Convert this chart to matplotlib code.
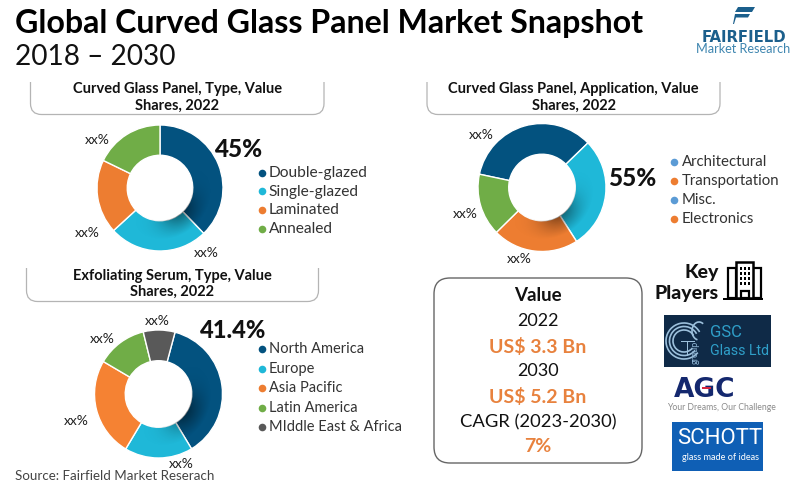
import numpy as np
import matplotlib
matplotlib.use("Agg")
import matplotlib.pyplot as plt
from matplotlib.patches import Arc, FancyBboxPatch, PathPatch, Rectangle, Wedge, Polygon
from matplotlib.path import Path

# shares
type_names = ["Double-glazed", "Single-glazed", "Laminated", "Annealed"]
type_vals = [37.8, 25.4, 19.0, 17.8]
app_names = ["Architectural", "Transportation", "Misc.", "Electronics"]
app_vals = [34.4, 28.2, 21.7, 15.7]
region_names = ["North America", "Europe", "Asia Pacific", "Latin America", "MIddle East & Africa"]
region_vals = [37.2, 17.2, 24.9, 12.7, 8.0]

blue = "#03527f"
cyan = "#1fb8d8"
orange = "#ed7d31"
green = "#70ad47"
gray = "#595959"
txt_orange = "#e8823e"
logo_blue = "#1b5f8c"

plt.rcParams["font.family"] = ["Lato", "DejaVu Sans"]

W, H = 800, 490
fig = plt.figure(figsize=(W / 100, H / 100), dpi=100, facecolor="white")
ax = fig.add_axes([0, 0, 1, 1])
ax.set_xlim(0, W)
ax.set_ylim(H, 0)
ax.axis("off")


def donut(cx, cy, r, vals, cols, start, shade_ang):
    a = fig.add_axes([(cx - r) / W, 1 - (cy + r) / H, 2 * r / W, 2 * r / H])
    a.pie(vals, colors=cols, startangle=start, counterclock=False,
          wedgeprops=dict(width=0.48, edgecolor="white", linewidth=1))
    # soft shadow inside the ring
    g = np.linspace(-1, 1, 200)
    x, y = np.meshgrid(g, g)
    rad = np.hypot(x, y)
    ang = np.arctan2(y, x)
    d = np.angle(np.exp(1j * (ang - np.radians(shade_ang))))
    alpha = 0.45 * np.clip(1 - (rad - 0.52) / 0.3, 0, 1) * np.exp(-(d / 0.65) ** 2)
    img = np.zeros((200, 200, 4))
    img[..., 3] = alpha
    im = a.imshow(img, extent=(-1, 1, -1, 1), origin="lower", zorder=3)
    im.set_clip_path(Wedge((0, 0), 1, 0, 360, width=0.48, transform=a.transData))
    a.set_xlim(-1, 1)
    a.set_ylim(-1, 1)
    a.axis("off")


donut(160, 188, 63, type_vals, [blue, cyan, orange, green], 90, -50)
donut(542, 187.5, 64, app_vals, [blue, cyan, orange, green], 168, -55)
donut(158.5, 394, 64, region_vals, [blue, cyan, "#f58233", green, gray], 75, -35)


def header(x0, x1, y0, y1, lines):
    rr = 11
    verts = [(x0, y0), (x0, y1 - rr), (x0, y1), (x0 + rr, y1), (x1 - rr, y1), (x1, y1), (x1, y1 - rr), (x1, y0)]
    codes = [Path.MOVETO, Path.LINETO, Path.CURVE3, Path.CURVE3, Path.LINETO, Path.CURVE3, Path.CURVE3, Path.LINETO]
    ax.add_patch(PathPatch(Path(verts, codes), fc="none", ec="#b4b4b4", lw=0.9))
    xc = (x0 + x1) / 2
    ax.text(xc, y0 + 7.5, lines[0], ha="center", va="center", fontsize=10.5, fontweight="bold", color="#111111")
    ax.text(xc, y0 + 23.5, lines[1], ha="center", va="center", fontsize=10.5, fontweight="bold", color="#111111")


header(30.5, 324, 82, 114.5, ["Curved Glass Panel, Type, Value", "Shares, 2022"])
header(427, 720, 82, 114.5, ["Curved Glass Panel, Application, Value", "Shares, 2022"])
header(26.5, 318.5, 268, 301.5, ["Exfoliating Serum, Type, Value", "Shares, 2022"])

# title
ax.text(15, 24, "Global Curved Glass Panel Market Snapshot", fontsize=23.1, fontweight="bold",
        color="black", va="center", ha="left")
ax.text(15, 57, "2018 – 2030", fontsize=20.2, color="#111111", va="center", ha="left")


def legend(x, ys, names, cols, tx, size):
    for yy, n, c in zip(ys, names, cols):
        ax.scatter([x], [yy], s=30, color=c, linewidths=0, zorder=4)
        ax.text(tx, yy, n, fontsize=size, color="#333333", va="center", ha="left")


legend(262, [173, 191.5, 210, 228.5], type_names, [blue, cyan, orange, green], 268.5, 11.2)
legend(674, [162, 181, 199.5, 218.5], app_names, ["#5b9bd5", orange, "#5b9bd5", orange], 682, 10.8)
legend(262, [349, 369, 388, 407.5, 427], region_names, [blue, cyan, orange, green, gray], 269, 10.5)

for x, y, s in [(97, 140, "xx%"), (87, 233, "xx%"), (206, 253, "xx%"),
                (481, 135, "xx%"), (465, 214, "xx%"), (519, 259, "xx%"),
                (102, 339, "xx%"), (157, 321, "xx%"), (76, 421, "xx%"), (181, 464, "xx%")]:
    ax.text(x, y, s, fontsize=10, color="#222222", ha="center", va="center")

ax.text(238, 149, "45%", fontsize=17.5, fontweight="black", color="#111111", ha="center", va="center")
ax.text(632.5, 178, "55%", fontsize=17.5, fontweight="black", color="#111111", ha="center", va="center")
ax.text(233, 330, "41.4%", fontsize=17, fontweight="black", color="#111111", ha="center", va="center")

ax.text(15, 475.5, "Source: Fairfield Market Reserach", fontsize=9.6, color="#444444", ha="left", va="center")

# value box
ax.add_patch(FancyBboxPatch((434, 278), 208, 185, boxstyle="round,pad=0,rounding_size=16", fc="white", ec="#666666", lw=1))
bx = 538
ax.text(bx, 295, "Value", fontsize=13.5, fontweight="bold", color="#111111", ha="center", va="center")
ax.text(bx, 320.5, "2022", fontsize=13, color="#111111", ha="center", va="center")
ax.text(bx, 347, "US$ 3.3 Bn", fontsize=14, fontweight="bold", color=txt_orange, ha="center", va="center")
ax.text(bx, 370.5, "2030", fontsize=13, color="#111111", ha="center", va="center")
ax.text(bx, 396.5, "US$ 5.2 Bn", fontsize=14, fontweight="bold", color=txt_orange, ha="center", va="center")
ax.text(bx, 422, "CAGR (2023-2030)", fontsize=13.2, color="#111111", ha="center", va="center")
ax.text(bx, 446, "7%", fontsize=14, fontweight="bold", color=txt_orange, ha="center", va="center")

# key players + building icon
ax.text(719, 272, "Key", fontsize=14, fontweight="black", color="#111111", ha="right", va="center")
ax.text(719, 293, "Players", fontsize=14, fontweight="black", color="#111111", ha="right", va="center")
ax.add_patch(Rectangle((723, 298), 40, 2, fc="black", ec="none"))
ax.add_patch(Rectangle((728, 268), 8, 30, fc="white", ec="black", lw=1.6))
ax.add_patch(Rectangle((753, 268), 8, 30, fc="white", ec="black", lw=1.6))
ax.add_patch(Rectangle((736, 262), 17, 36, fc="white", ec="black", lw=1.8))
ax.add_patch(Rectangle((741, 291), 8, 7, fc="white", ec="black", lw=1.6))
for xx in [741, 745, 749]:
    for yy in [267, 272, 277, 282]:
        ax.add_patch(Rectangle((xx - 1, yy), 2.2, 2.6, fc="black", ec="none"))

# logos
ax.add_patch(Rectangle((664, 315), 107, 52, fc="#0f2a47", ec="none"))
for d in [36, 29, 22]:
    ax.add_patch(Arc((684, 341), d, d, theta1=40, theta2=330, ec="#9cc0dc", lw=1.2))
ax.add_patch(Arc((699, 331), 14, 18, theta1=100, theta2=300, ec="#9cc0dc", lw=1.2))
ax.add_patch(Rectangle((681, 341), 14, 1.4, fc="#9cc0dc", ec="none"))
ax.add_patch(Rectangle((687, 342), 1.4, 14, fc="#9cc0dc", ec="none"))
ax.text(695.5, 352, "group", fontsize=6.5, color="#8fb6d6", rotation=90, ha="center", va="center")
ax.text(710, 332, "GSC", fontsize=12, color="#2f9fc9", ha="left", va="center", family="Roboto")
ax.text(710, 351, "Glass Ltd", fontsize=10.2, color="#2f9fc9", ha="left", va="center", family="Roboto")

ax.text(705, 389.5, "AGC", fontsize=19, fontweight="bold", color="#14286e", ha="center", va="center",
        family=["DejaVu Sans"])
ax.add_patch(Rectangle((702, 387), 9, 2, fc="#d8263c", ec="none", zorder=4))
ax.text(721, 407.5, "Your Dreams, Our Challenge", fontsize=6.2, color="#8a8a8a", ha="center", va="center")

ax.add_patch(Rectangle((672, 422), 91, 49, fc="#0f5fb5", ec="none"))
ax.text(719.5, 438, "SCHOTT", fontsize=16, color="white", ha="center", va="center", family="Roboto")
ax.text(720, 457, "glass made of ideas", fontsize=6.6, color="white", ha="center", va="center")

# fairfield logo
ax.add_patch(Polygon([(738, 7), (755, 7), (752, 12), (735, 12)], fc=logo_blue, ec="none"))
ax.add_patch(Polygon([(735, 14), (750, 14), (748, 17.5), (736, 17.5), (734, 24), (733, 24)], fc=logo_blue, ec="none"))
ax.text(744, 37, "FAIRFIELD", fontsize=10.7, fontweight="bold", color=logo_blue, ha="center", va="center",
        family=["DejaVu Sans"])
ax.text(743.5, 49, "Market Research", fontsize=9.1, color="#3f86b0", ha="center", va="center")

fig.savefig("out.png", dpi=100)
